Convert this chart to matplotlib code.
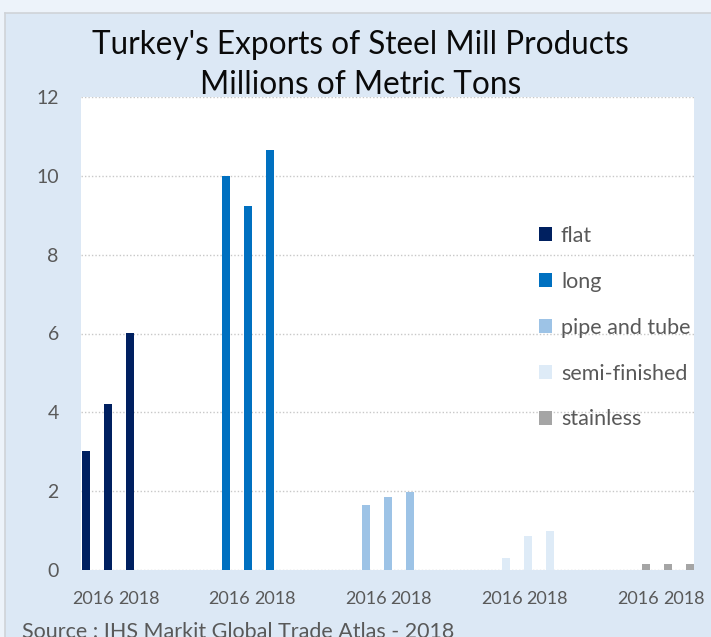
import matplotlib
matplotlib.use("Agg")
import matplotlib.pyplot as plt
from matplotlib.patches import Rectangle, Patch
from matplotlib.lines import Line2D

categories = ['flat', 'long', 'pipe and tube', 'semi-finished', 'stainless']
years = ['2016', '2017', '2018']
flat = [3.02, 4.21, 6.02]
long_ = [10.0, 9.24, 10.66]
pipe = [1.66, 1.86, 1.97]
semi = [0.30, 0.85, 1.00]
stainless = [0.14, 0.15, 0.15]
series = [flat, long_, pipe, semi, stainless]
colors = ['#002060', '#0070c0', '#9dc3e6', '#deebf7', '#a5a5a5']
yticks = [0, 2, 4, 6, 8, 10, 12]

plt.rcParams['font.family'] = ['Lato', 'DejaVu Sans']
W, H = 711, 637
fig = plt.figure(figsize=(W / 100, H / 100), dpi=100)
fig.patch.set_facecolor('#dce8f5')

# outer slide border (top / left light band)
fig.add_artist(Rectangle((0, 1 - 13 / H), 1, 13 / H, transform=fig.transFigure,
                         facecolor='#edf3fa', edgecolor='none', zorder=0))
fig.add_artist(Rectangle((0, 0), 5 / W, 1, transform=fig.transFigure,
                         facecolor='#edf3fa', edgecolor='none', zorder=0))
fig.add_artist(Line2D([5 / W, 1], [1 - 13 / H, 1 - 13 / H], transform=fig.transFigure,
                      color='#cfd3d8', lw=1.2))
fig.add_artist(Line2D([5 / W, 5 / W], [0, 1 - 13 / H], transform=fig.transFigure,
                      color='#cfd3d8', lw=1.2))

ax = fig.add_axes([81 / W, (H - 570) / H, (694 - 81) / W, (570 - 97) / H])
ax.set_facecolor('white')

group_step = 140
bar_step = 22
label_group_step = 136.3
label_step = 22.75
tick_pos = []
tick_lab = []
for i, (cat, vals, col) in enumerate(zip(categories, series, colors)):
    xs = [i * group_step + j * bar_step for j in range(len(years))]
    ax.bar(xs, vals, width=7.5, color=col, label=cat, zorder=3)
    for j in (0, 2):
        tick_pos.append(7 + i * label_group_step + j * label_step)
        tick_lab.append(years[j])

ax.set_xlim(-5, 608)
ax.set_ylim(0, 12)
ax.set_yticks(yticks)
ax.set_yticklabels([str(v) for v in yticks])
ax.set_xticks(tick_pos)
ax.set_xticklabels(tick_lab)

ax.tick_params(axis='both', length=0, colors='#595959')
ax.tick_params(axis='y', pad=16, labelsize=14)
ax.tick_params(axis='x', pad=15, labelsize=13)
ax.grid(axis='y', color='#c8c8c8', linestyle=(0, (1, 1.5)), linewidth=1, zorder=0)
ax.set_axisbelow(True)
for s in ax.spines.values():
    s.set_visible(False)

leg_handles = [Patch(facecolor=c, edgecolor='none') for c in colors]
leg = ax.legend(leg_handles, categories, loc='upper left',
                bbox_to_anchor=((539 - 81) / (694 - 81), (570 - 226) / (570 - 97)),
                frameon=False, fontsize=15.5, handlelength=0.62, handleheight=0.62,
                handletextpad=0.4, labelspacing=1.2, borderpad=0, borderaxespad=0,
                labelcolor='#595959')

fig.text(360 / W, 1 - 45 / H, "Turkey's Exports of Steel Mill Products",
         ha='center', va='center', fontsize=22.7, color='#0a0a0a')
fig.text(361 / W, 1 - 85 / H, "Millions of Metric Tons",
         ha='center', va='center', fontsize=22.7, color='#0a0a0a')
fig.text(22 / W, 1 - 622 / H, "Source : IHS Markit Global Trade Atlas - 2018",
         ha='left', va='top', fontsize=15.5, color='#595959')

fig.savefig('out.png', dpi=100, facecolor=fig.get_facecolor())
